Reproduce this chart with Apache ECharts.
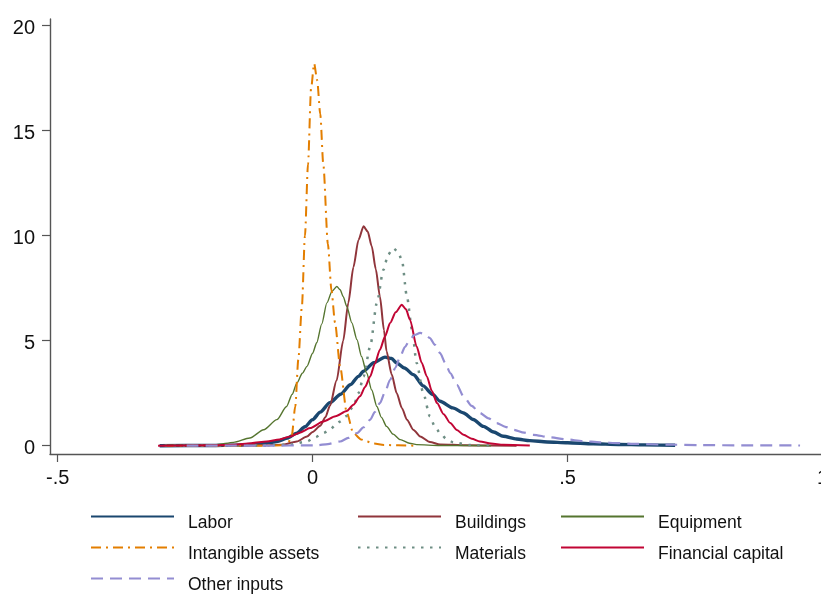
<!DOCTYPE html>
<html>
<head>
<meta charset="utf-8">
<script src="https://cdn.jsdelivr.net/npm/echarts@6/dist/echarts.min.js"></script>
<style>
html,body{margin:0;padding:0;background:#fff;}
#chart{width:821px;height:594px;}
</style>
</head>
<body>
<div id="chart"></div>
<script>
// ---- data ----
const seriesNames = ['Labor','Buildings','Equipment','Intangible assets','Materials','Financial capital','Other inputs'];

const labor = [[-0.30,0.0],[-0.20,0.01],[-0.15,0.03],[-0.12,0.06],[-0.09,0.13],[-0.07,0.2],[-0.05,0.36],[-0.031,0.6],[-0.015,0.9],[0.0,1.24],[0.015,1.6],[0.034,2.05],[0.055,2.45],[0.074,2.9],[0.09,3.3],[0.10,3.55],[0.12,3.95],[0.142,4.22],[0.155,4.15],[0.165,3.94],[0.18,3.7],[0.198,3.38],[0.217,2.85],[0.235,2.45],[0.25,2.12],[0.275,1.8],[0.296,1.56],[0.315,1.25],[0.335,0.92],[0.355,0.65],[0.374,0.45],[0.40,0.32],[0.426,0.24],[0.46,0.18],[0.5,0.14],[0.55,0.09],[0.6,0.06],[0.65,0.04],[0.711,0.02]];

const buildings = [[-0.293,0.0],[-0.2,0.01],[-0.1,0.02],[-0.058,0.05],[-0.031,0.2],[-0.011,0.44],[0.0,0.65],[0.015,0.95],[0.025,1.35],[0.034,1.9],[0.047,3.1],[0.06,5.0],[0.07,6.8],[0.08,8.5],[0.09,9.8],[0.10,10.45],[0.108,10.2],[0.116,9.5],[0.124,8.4],[0.132,7.1],[0.14,5.5],[0.145,4.5],[0.155,3.4],[0.165,2.5],[0.175,1.8],[0.185,1.24],[0.198,0.75],[0.211,0.44],[0.23,0.18],[0.25,0.06],[0.3,0.02],[0.4,0.0]];

const equipment = [[-0.29,0.0],[-0.22,0.02],[-0.188,0.05],[-0.155,0.16],[-0.123,0.37],[-0.096,0.76],[-0.07,1.24],[-0.051,1.87],[-0.04,2.45],[-0.031,2.98],[-0.02,3.45],[-0.011,3.78],[0.0,4.4],[0.008,4.9],[0.018,5.8],[0.028,6.8],[0.038,7.35],[0.0475,7.58],[0.054,7.43],[0.06,7.1],[0.067,6.63],[0.077,5.85],[0.087,5.05],[0.096,4.25],[0.106,3.46],[0.116,2.65],[0.126,1.87],[0.135,1.35],[0.145,0.92],[0.158,0.55],[0.172,0.29],[0.19,0.12],[0.204,0.05],[0.25,0.01],[0.35,0.0]];

const intangible = [[-0.29,0.0],[-0.1,0.0],[-0.06,0.02],[-0.048,0.15],[-0.041,0.44],[-0.034,1.87],[-0.028,4.1],[-0.021,6.63],[-0.015,10.0],[-0.009,13.4],[-0.003,17.0],[0.003,18.2],[0.009,17.4],[0.015,15.8],[0.021,13.4],[0.030,9.6],[0.037,7.4],[0.044,5.86],[0.054,3.76],[0.067,1.57],[0.08,0.6],[0.095,0.3],[0.106,0.2],[0.12,0.1],[0.14,0.03],[0.2,0.0]];

const materials = [[-0.29,0.0],[-0.1,0.01],[-0.044,0.05],[-0.011,0.2],[0.005,0.4],[0.021,0.6],[0.034,0.75],[0.045,1.0],[0.054,1.15],[0.065,1.4],[0.08,1.87],[0.09,2.5],[0.1,3.3],[0.113,4.73],[0.126,6.8],[0.139,8.38],[0.148,9.1],[0.158,9.41],[0.167,9.25],[0.175,8.86],[0.185,7.1],[0.195,5.52],[0.204,3.94],[0.217,2.51],[0.23,1.4],[0.24,0.9],[0.25,0.6],[0.262,0.33],[0.276,0.16],[0.31,0.03],[0.35,0.0]];

const financial = [[-0.303,0.0],[-0.2,0.02],[-0.155,0.05],[-0.12,0.12],[-0.09,0.2],[-0.065,0.3],[-0.044,0.44],[-0.025,0.62],[-0.005,0.84],[0.021,1.15],[0.045,1.4],[0.067,1.65],[0.08,1.95],[0.093,2.35],[0.103,2.8],[0.113,3.3],[0.122,3.9],[0.132,4.57],[0.142,5.2],[0.152,5.84],[0.163,6.35],[0.175,6.71],[0.183,6.5],[0.191,6.0],[0.204,4.73],[0.214,3.95],[0.224,3.3],[0.234,2.6],[0.244,2.03],[0.257,1.5],[0.27,1.08],[0.283,0.75],[0.296,0.52],[0.312,0.33],[0.328,0.2],[0.35,0.1],[0.374,0.05],[0.426,0.01]];

const other = [[-0.247,0.0],[-0.1,0.0],[0.008,0.02],[0.03,0.08],[0.054,0.2],[0.07,0.37],[0.087,0.6],[0.1,0.88],[0.113,1.24],[0.122,1.6],[0.132,2.03],[0.142,2.55],[0.152,3.14],[0.162,3.7],[0.172,4.25],[0.181,4.7],[0.191,5.05],[0.2,5.28],[0.211,5.37],[0.22,5.32],[0.23,5.13],[0.24,4.8],[0.25,4.41],[0.26,3.95],[0.27,3.46],[0.283,2.9],[0.296,2.35],[0.312,1.9],[0.328,1.56],[0.345,1.3],[0.361,1.08],[0.378,0.9],[0.394,0.76],[0.415,0.62],[0.433,0.52],[0.465,0.4],[0.498,0.3],[0.53,0.22],[0.564,0.16],[0.6,0.12],[0.63,0.09],[0.695,0.05],[0.76,0.03],[0.85,0.015],[0.956,0.01]];

const xTickValues = [-0.5, 0, 0.5, 1];
const xTickLabels = ['-.5', '0', '.5', '1'];
const yTickValues = [0, 5, 10, 15, 20];
const yTickLabels = ['0', '5', '10', '15', '20'];

// ---- styles ----
const seriesData = [labor, buildings, equipment, intangible, materials, financial, other];
const styles = [
  {color:'#1a476f', width:3.4, type:'solid'},
  {color:'#90353b', width:2, type:'solid'},
  {color:'#55752f', width:1.4, type:'solid'},
  {color:'#e37e00', width:2, type:[10,5,2,5]},
  {color:'#6e8e84', width:2.5, type:[2.5,6.5]},
  {color:'#c10534', width:2, type:'solid'},
  {color:'#938dd2', width:2.2, type:[12,7]}
];
const legendPos = [
  {left:90, row:0}, {left:357, row:0}, {left:560, row:0},
  {left:90, row:1}, {left:357, row:1}, {left:560, row:1},
  {left:90, row:2}
];

const font = '"Liberation Sans", Arial, Helvetica, sans-serif';
const itemH = 14;
const legLine = 14;

const chart = echarts.init(document.getElementById('chart'), null, {renderer:'canvas'});
chart.setOption({
  backgroundColor:'#ffffff',
  animation:false,
  grid:{left:50, top:19, right:-1.5, bottom:140, containLabel:false, outerBoundsMode:'none'},
  xAxis:{
    type:'value', min:-0.515, max:1.0,
    axisLine:{show:true, onZero:false, lineStyle:{color:'#555555', width:1.4}},
    axisTick:{show:true, length:8, customValues:xTickValues, lineStyle:{color:'#555555', width:1.2}},
    axisLabel:{show:true, margin:14, customValues:xTickValues, fontSize:20, fontFamily:font, color:'#111',
      formatter:function(v){ const i = xTickValues.findIndex(t=>Math.abs(t-v)<1e-9); return i>=0?xTickLabels[i]:''; }},
    splitLine:{show:false}
  },
  yAxis:{
    type:'value', min:-0.395, max:20.32,
    axisLine:{show:true, onZero:false, lineStyle:{color:'#555555', width:1.4}},
    axisTick:{show:true, length:8, customValues:yTickValues, lineStyle:{color:'#555555', width:1.2}},
    axisLabel:{show:true, margin:15, customValues:yTickValues, fontSize:20, fontFamily:font, color:'#111',
      formatter:function(v){ const i = yTickValues.findIndex(t=>Math.abs(t-v)<1e-9); return i>=0?('{p|'+yTickLabels[i]+'}'):''; },
      rich:{p:{fontSize:20, fontFamily:font, color:'#111', padding:[6,0,0,0]}}},
    splitLine:{show:false}
  },
  legend: seriesNames.map(function(n,i){
    return {
      data:[n], left:legendPos[i].left, top:516 + 31*legendPos[i].row - legLine - 1.5,
      padding:0, itemWidth:83, itemHeight:itemH, selectedMode:false,
      itemStyle:{opacity:0},
      formatter:function(name){ return '\n' + name; },
      textStyle:{fontSize:17.5, fontFamily:font, color:'#111', lineHeight:legLine, padding:[0,0,0,9]}
    };
  }),
  series: seriesNames.map(function(n,i){
    return {
      name:n, type:'line', data:seriesData[i], symbol:'none', showSymbol:false,
      smooth:0.25, smoothMonotone:'x', clip:true,
      lineStyle:{color:styles[i].color, width:styles[i].width, type:styles[i].type},
      itemStyle:{color:styles[i].color},
      emphasis:{disabled:true}
    };
  })
});
</script>
</body>
</html>
